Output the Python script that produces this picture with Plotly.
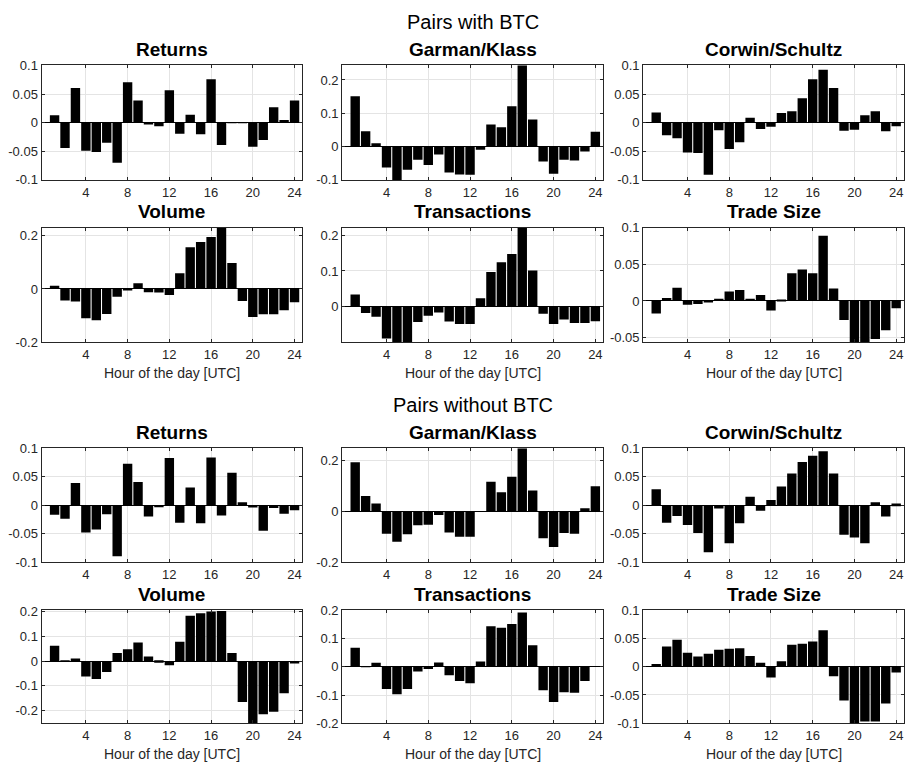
import plotly.graph_objects as go

# ---------------- data ----------------
hours = list(range(1, 25))
xtick_vals = [4, 8, 12, 16, 20, 24]
xtick_text = ["4", "8", "12", "16", "20", "24"]

panel_titles = ["Returns", "Garman/Klass", "Corwin/Schultz", "Volume", "Transactions", "Trade Size"]
section_titles = ["Pairs with BTC", "Pairs without BTC"]
x_label = "Hour of the day [UTC]"

wb_returns = [0.013, -0.044, 0.061, -0.049, -0.051, -0.035, -0.070, 0.071, 0.039, -0.003, -0.006, 0.057,
              -0.019, 0.014, -0.020, 0.076, -0.039, -0.001, -0.001, -0.042, -0.030, 0.027, 0.005, 0.039]
wb_gk = [0.151, 0.046, 0.010, -0.063, -0.101, -0.070, -0.040, -0.056, -0.024, -0.078, -0.084, -0.085,
         -0.010, 0.066, 0.058, 0.121, 0.244, 0.081, -0.045, -0.082, -0.040, -0.042, -0.015, 0.044]
wb_cs = [0.018, -0.022, -0.027, -0.052, -0.053, -0.091, -0.013, -0.046, -0.034, 0.009, -0.011, -0.007,
         0.017, 0.020, 0.043, 0.076, 0.093, 0.061, -0.014, -0.012, 0.013, 0.020, -0.015, -0.006]
wb_volume = [0.012, -0.043, -0.047, -0.110, -0.117, -0.094, -0.029, -0.004, 0.022, -0.012, -0.013, -0.023,
             0.059, 0.157, 0.177, 0.195, 0.231, 0.098, -0.045, -0.105, -0.095, -0.095, -0.080, -0.050]
wb_trans = [0.034, -0.017, -0.028, -0.088, -0.099, -0.099, -0.042, -0.025, -0.016, -0.041, -0.048, -0.048,
            0.024, 0.097, 0.124, 0.147, 0.221, 0.101, -0.019, -0.048, -0.035, -0.045, -0.045, -0.040]
wb_ts = [-0.017, 0.004, 0.018, -0.005, -0.004, -0.001, 0.003, 0.013, 0.015, 0.003, 0.008, -0.013,
         0.001, 0.038, 0.043, 0.038, 0.089, 0.017, -0.026, -0.056, -0.056, -0.052, -0.040, -0.010]

wo_returns = [-0.017, -0.024, 0.039, -0.048, -0.043, -0.016, -0.090, 0.073, 0.041, -0.020, -0.003, 0.083,
              -0.031, 0.031, -0.032, 0.084, -0.018, 0.057, 0.005, -0.004, -0.045, -0.005, -0.015, -0.009]
wo_gk = [0.194, 0.061, 0.031, -0.088, -0.120, -0.090, -0.054, -0.052, -0.014, -0.083, -0.100, -0.100,
         0.000, 0.117, 0.076, 0.137, 0.250, 0.083, -0.106, -0.140, -0.085, -0.088, 0.013, 0.100]
wo_cs = [0.028, -0.031, -0.019, -0.035, -0.049, -0.083, -0.006, -0.067, -0.032, 0.015, -0.010, 0.009,
         0.033, 0.056, 0.076, 0.087, 0.095, 0.056, -0.052, -0.057, -0.067, 0.005, -0.020, 0.003]
wo_volume = [0.062, 0.002, 0.010, -0.063, -0.073, -0.044, 0.032, 0.047, 0.075, 0.018, -0.007, -0.017,
             0.078, 0.183, 0.193, 0.200, 0.202, 0.032, -0.166, -0.252, -0.215, -0.205, -0.130, -0.010]
wo_trans = [0.067, 0.001, 0.014, -0.079, -0.097, -0.079, -0.017, -0.008, 0.015, -0.030, -0.050, -0.058,
            0.019, 0.143, 0.138, 0.151, 0.192, 0.076, -0.083, -0.125, -0.090, -0.092, -0.050, 0.000]
wo_ts = [0.005, 0.036, 0.048, 0.025, 0.018, 0.023, 0.030, 0.032, 0.033, 0.019, 0.007, -0.019,
         0.010, 0.039, 0.041, 0.045, 0.065, -0.017, -0.060, -0.100, -0.097, -0.097, -0.065, -0.010]

series = [wb_returns, wb_gk, wb_cs, wb_volume, wb_trans, wb_ts,
          wo_returns, wo_gk, wo_cs, wo_volume, wo_trans, wo_ts]

ytick_sets = [
    [-0.1, -0.05, 0, 0.05, 0.1],
    [-0.1, 0, 0.1, 0.2],
    [-0.1, -0.05, 0, 0.05, 0.1],
    [-0.2, 0, 0.2],
    [0, 0.1, 0.2],
    [-0.05, 0, 0.05, 0.1],
    [-0.1, -0.05, 0, 0.05, 0.1],
    [-0.2, 0, 0.2],
    [-0.1, -0.05, 0, 0.05, 0.1],
    [-0.2, -0.1, 0, 0.1, 0.2],
    [-0.2, -0.1, 0, 0.1, 0.2],
    [-0.1, -0.05, 0, 0.05, 0.1],
]

# ---------------- layout settings ----------------
y_ranges = [
    [-0.1005, 0.1005], [-0.1015, 0.244], [-0.1005, 0.1005],
    [-0.2005, 0.231], [-0.099, 0.221], [-0.0565, 0.1003],
    [-0.1005, 0.1005], [-0.2005, 0.25], [-0.1005, 0.1005],
    [-0.252, 0.2055], [-0.2005, 0.2005], [-0.1005, 0.1005],
]
x_range = [-0.25, 24.75]

PAGE_W, PAGE_H = 913, 776
OFF = 8  # default body margin of the page
W, H = PAGE_W - 2 * OFF, PAGE_H - 2 * OFF
# page-pixel positions of the plot areas
col_px = [(37.7, 300.0), (340.0, 602.5), (642.7, 905.0)]
row_px = [(59.3, 176.3), (224.5, 341.5), (449.3, 565.5), (614.3, 729.7)]

FONT = "Liberation Sans, Arial, Helvetica, sans-serif"
AX_COLOR = "#262626"
GRID = "#e4e4e4"


def px_x(p):
    return (p - OFF) / W


def px_y(p):
    return 1 - (p - OFF) / H


def fmt(v):
    return "0" if v == 0 else ("%g" % v)


fig = go.Figure()
layout = dict(
    width=W, height=H,
    margin=dict(l=0, r=0, t=0, b=0),
    paper_bgcolor="white", plot_bgcolor="white",
    showlegend=False,
    font=dict(family=FONT, size=13, color=AX_COLOR),
)
annotations = []

for i, vals in enumerate(series):
    r, c = divmod(i, 3)
    k = i + 1
    xa = "x" if k == 1 else f"x{k}"
    ya = "y" if k == 1 else f"y{k}"
    fig.add_trace(go.Bar(x=hours, y=vals, xaxis=xa, yaxis=ya, width=0.9,
                         marker=dict(color="black", line=dict(width=0)),
                         hoverinfo="skip"))
    x0, x1 = col_px[c]
    y0, y1 = row_px[r]
    xkey = "xaxis" if k == 1 else f"xaxis{k}"
    ykey = "yaxis" if k == 1 else f"yaxis{k}"
    layout[xkey] = dict(
        domain=[px_x(x0), px_x(x1)], anchor=ya, range=x_range,
        tickmode="array", tickvals=xtick_vals, ticktext=xtick_text,
        ticks="inside", ticklen=3, tickcolor=AX_COLOR,
        showline=True, linecolor=AX_COLOR, linewidth=1, mirror="ticks",
        showgrid=True, gridcolor=GRID, gridwidth=1, zeroline=False,
        tickfont=dict(family=FONT, size=13, color=AX_COLOR),
    )
    yt = ytick_sets[i]
    layout[ykey] = dict(
        domain=[px_y(y1), px_y(y0)], anchor=xa, range=y_ranges[i],
        tickmode="array", tickvals=yt, ticktext=[fmt(v) for v in yt],
        ticks="inside", ticklen=3, tickcolor=AX_COLOR,
        showline=True, linecolor=AX_COLOR, linewidth=1, mirror="ticks",
        showgrid=True, gridcolor=GRID, gridwidth=1,
        zeroline=True, zerolinecolor="black", zerolinewidth=1,
        tickfont=dict(family=FONT, size=13, color=AX_COLOR),
    )
    annotations.append(dict(
        text="<b>" + panel_titles[i % 6] + "</b>", xref="paper", yref="paper",
        x=px_x((x0 + x1) / 2), y=px_y(y0 - 16), xanchor="center", yanchor="middle",
        showarrow=False, font=dict(family=FONT, size=19, color="black")))
    if r in (1, 3):
        annotations.append(dict(
            text=x_label, xref="paper", yref="paper",
            x=px_x((x0 + x1) / 2), y=px_y(y1 + 31), xanchor="center", yanchor="middle",
            showarrow=False, font=dict(family=FONT, size=14, color=AX_COLOR)))

mid_x = px_x((col_px[1][0] + col_px[1][1]) / 2)
for s, title in enumerate(section_titles):
    top = row_px[2 * s][0]
    annotations.append(dict(
        text=title, xref="paper", yref="paper", x=mid_x, y=px_y(top - 44.3),
        xanchor="center", yanchor="middle", showarrow=False,
        font=dict(family=FONT, size=20, color="black")))

layout["annotations"] = annotations
fig.update_layout(**layout)
fig.write_html("out.html")
